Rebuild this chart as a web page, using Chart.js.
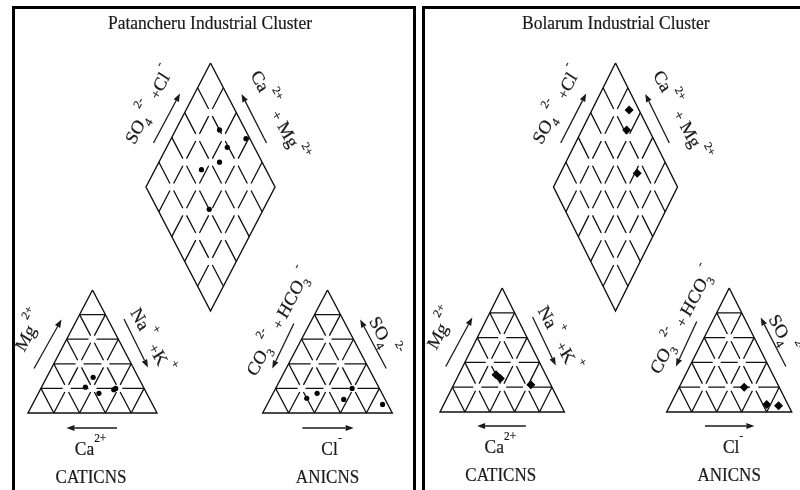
<!DOCTYPE html>
<html>
<head>
<meta charset="utf-8">
<script src="https://cdn.jsdelivr.net/npm/chart.js@4.4.1/dist/chart.umd.min.js"></script>
<style>
  html, body { margin: 0; padding: 0; background: #fff; overflow: hidden; }
  body { width: 800px; height: 490px; position: relative; }
  .frame { position: absolute; top: 6px; height: 520px; border: 3px solid #000; border-bottom: none; box-sizing: border-box; }
  canvas { position: absolute; top: 0; }
</style>
</head>
<body>
<div class="frame" style="left:12px; width:404px"></div>
<div class="frame" style="left:422px; width:420px"></div>
<canvas id="patancheru" width="420" height="490" style="left:0"></canvas>
<canvas id="bolarum" width="380" height="490" style="left:420px"></canvas>
<script>
// Piper diagrams, values in % meq/l

// Patancheru - cation triangle
const patCa = [35, 45, 37, 24, 22]
const patMg = [29, 21, 16, 19, 20]
const patNaK = [36, 34, 47, 57, 58]
// Patancheru - anion triangle
const patHCO3 = [50, 60, 32, 21, 4]
const patSO4 = [16, 12, 11, 20, 7]
const patCl = [34, 28, 57, 59, 89]
// Patancheru - diamond
const patCaMg = [66, 42, 53, 53, 64, 42]
const patSO4Cl = [80, 97, 79, 67, 50, 40]

// Bolarum - cation triangle
const bolCa = [40, 38, 16]
const bolMg = [30, 27, 22]
const bolNaK = [30, 35, 62]
// Bolarum - anion triangle
const bolHCO3 = [28, 17, 8]
const bolSO4 = [20, 6, 5]
const bolCl = [52, 77, 87]
// Bolarum - diamond
const bolCaMg = [70, 64, 38]
const bolSO4Cl = [92, 82, 73]

// grid every 20 %
const gridSteps = [20, 40, 60, 80]

const SY = 1.1 // the figure is stretched vertically
const FONT = '"Liberation Serif", "Times New Roman", serif'
const INK = '#1a1a1a'
const GAP = 4

// ---------- geometry helpers ----------
function triPoint(s, right, up) {
  const base = s.apex + s.h
  return { x: s.cx - s.hw + (right + up / 2) * 2 * s.hw, y: base - up * s.h }
}

function diaPoint(d, c, a) {
  return { x: d.cx + (a - c) * d.hw, y: d.top + 2 * d.hh - (c + a) * d.hh }
}

function brokenLine(p, q, cells, out) {
  const total = Math.hypot(q.x - p.x, q.y - p.y)
  const g = GAP / total
  for (let i = 0; i < cells; i++) {
    const t0 = i / cells + (i > 0 ? g : 0)
    const t1 = (i + 1) / cells - (i < cells - 1 ? g : 0)
    out.push({ x: p.x + (q.x - p.x) * t0, y: p.y + (q.y - p.y) * t0 })
    out.push({ x: p.x + (q.x - p.x) * t1, y: p.y + (q.y - p.y) * t1 })
    out.push({ x: null, y: null })
  }
}

function triangleGrid(s, out) {
  gridSteps.forEach((v) => {
    const k = v / 100
    const cells = Math.round((1 - k) * 5)
    brokenLine(triPoint(s, 0, k), triPoint(s, 1 - k, k), cells, out)
    brokenLine(triPoint(s, k, 0), triPoint(s, k, 1 - k), cells, out)
    brokenLine(triPoint(s, 1 - k, 0), triPoint(s, 0, 1 - k), cells, out)
  })
}

function diamondGrid(d, out) {
  gridSteps.forEach((v) => {
    const k = v / 100
    brokenLine(diaPoint(d, k, 0), diaPoint(d, k, 1), 5, out)
    brokenLine(diaPoint(d, 0, k), diaPoint(d, 1, k), 5, out)
  })
}

function outlines(L) {
  const pts = []
  ;[L.cat, L.an].forEach((s) => {
    pts.push(triPoint(s, 0, 1), triPoint(s, 1, 0), triPoint(s, 0, 0), triPoint(s, 0, 1))
    pts.push({ x: null, y: null })
  })
  const d = L.dia
  pts.push(diaPoint(d, 1, 1), diaPoint(d, 0, 1), diaPoint(d, 0, 0), diaPoint(d, 1, 0), diaPoint(d, 1, 1))
  return pts
}

// ---------- text / arrows ----------
function richText(ctx, x, y, deg, parts, size) {
  const sizes = { '': size, sub: size * 0.65, sup: size * 0.65, small: size * 0.8 }
  ctx.save()
  ctx.translate(x, y)
  ctx.scale(1, SY)
  ctx.rotate((deg * Math.PI) / 180)
  ctx.fillStyle = INK
  ctx.strokeStyle = INK
  ctx.lineWidth = 0.2
  ctx.textBaseline = 'alphabetic'
  let total = 0
  const widths = parts.map(([t, k]) => {
    ctx.font = sizes[k] + 'px ' + FONT
    const w = ctx.measureText(t).width
    total += w
    return w
  })
  let cx = -total / 2
  const base = size * 0.33
  parts.forEach(([t, k], i) => {
    ctx.font = sizes[k] + 'px ' + FONT
    let dy = base
    if (k === 'sub') dy += size * 0.3
    if (k === 'sup') dy -= size * 0.7
    ctx.fillText(t, cx, dy)
    ctx.strokeText(t, cx, dy)
    cx += widths[i]
  })
  ctx.restore()
}

function arrow(ctx, x1, y1, x2, y2) {
  const ang = Math.atan2(y2 - y1, x2 - x1)
  const len = 8, half = 3
  ctx.save()
  ctx.strokeStyle = INK
  ctx.fillStyle = INK
  ctx.lineWidth = 1.3
  ctx.beginPath()
  ctx.moveTo(x1, y1)
  ctx.lineTo(x2 - Math.cos(ang) * len, y2 - Math.sin(ang) * len)
  ctx.stroke()
  ctx.beginPath()
  ctx.moveTo(x2, y2)
  ctx.lineTo(x2 - Math.cos(ang) * len - Math.sin(ang) * half, y2 - Math.sin(ang) * len + Math.cos(ang) * half)
  ctx.lineTo(x2 - Math.cos(ang) * len + Math.sin(ang) * half, y2 - Math.sin(ang) * len - Math.cos(ang) * half)
  ctx.closePath()
  ctx.fill()
  ctx.restore()
}

// labels: [shape, dx, dy, angle, parts, size]
const labels = [
  ['dia', -61.5, 42, -60, [['SO', ''], ['4', 'sub'], [' 2-', 'sup'], ['  +', 'small'], ['Cl', ''], [' -', 'sup']], 17.5],
  ['dia', 68, 53, 60, [['Ca', ''], [' 2+', 'sup'], ['  +', 'small'], [' Mg', ''], [' 2+', 'sup']], 17.5],
  ['cat', -63.5, 41, -60, [['Mg', ''], [' 2+', 'sup']], 17.5],
  ['cat', 59, 51, 60, [['Na', ''], [' +', 'sup'], ['  +', 'small'], ['K', ''], [' +', 'sup']], 17.5],
  ['cat', -2, 159, 0, [['Ca', ''], ['2+', 'sup']], 17.5],
  ['cat', -1.5, 187, 0, [['CATICNS', '']], 17],
  ['an', -49, 32, -60, [['CO', ''], ['3', 'sub'], [' 2-', 'sup'], ['  + ', 'small'], ['HCO', ''], ['3', 'sub'], [' -', 'sup']], 17.5],
  ['an', 56, 47, 60, [['SO', ''], ['4', 'sub'], [' 2-', 'sup']], 17.5],
  ['an', 4, 159, 0, [['Cl', ''], ['-', 'sup']], 17.5],
  ['an', 0, 187, 0, [['ANICNS', '']], 17]
]

// arrows: [shape, x1, y1, x2, y2] (head at the second point)
const arrows = [
  ['dia', -57, 80, -30.5, 30.5],
  ['dia', 56, 80, 31, 31],
  ['cat', -58.5, 78.5, -31, 29.5],
  ['cat', 31.5, 29, 55.5, 77.5],
  ['cat', 24.5, 138, -26, 138],
  ['an', -33.5, 33.5, -55, 78.5],
  ['an', 58.5, 78.5, 32.5, 29.5],
  ['an', -25, 138, 26, 138]
]

function anchor(L, name) {
  if (name === 'dia') return { x: L.dia.cx, y: L.dia.top, s: L.dia.hw / 64.5 }
  const s = L[name]
  return { x: s.cx, y: s.apex, s: s.hw / 64.5 }
}

function labelPlugin(title, L) {
  return {
    id: 'piperLabels',
    afterDatasetsDraw(chart) {
      const { ctx } = chart
      const sx = chart.scales.x
      const sy = chart.scales.y
      const px = (v) => sx.getPixelForValue(v)
      const py = (v) => sy.getPixelForValue(v)

      richText(ctx, px(L.title.x), py(L.title.y), 0, [[title, '']], 17.5)

      labels.forEach(([name, dx, dy, deg, parts, size]) => {
        const a = anchor(L, name)
        richText(ctx, px(a.x + dx * a.s), py(a.y + dy), deg, parts, size)
      })
      arrows.forEach(([name, x1, y1, x2, y2]) => {
        const a = anchor(L, name)
        arrow(ctx, px(a.x + x1 * a.s), py(a.y + y1), px(a.x + x2 * a.s), py(a.y + y2))
      })
    }
  }
}

function makeChart(canvasId, title, L, cations, anions, diamond, marker) {
  const canvas = document.getElementById(canvasId)
  const grid = []
  triangleGrid(L.cat, grid)
  triangleGrid(L.an, grid)
  diamondGrid(L.dia, grid)

  const catPts = cations.ca.map((ca, i) => {
    const t = ca + cations.mg[i] + cations.nak[i]
    return triPoint(L.cat, cations.nak[i] / t, cations.mg[i] / t)
  })
  const anPts = anions.hco3.map((h, i) => {
    const t = h + anions.so4[i] + anions.cl[i]
    return triPoint(L.an, anions.cl[i] / t, anions.so4[i] / t)
  })
  const diaPts = diamond.camg.map((c, i) => diaPoint(L.dia, c / 100, diamond.so4cl[i] / 100))

  const pointSet = (label, data) => ({
    label,
    data,
    pointStyle: marker.style,
    pointRadius: marker.radius,
    backgroundColor: '#000',
    borderColor: '#000',
    borderWidth: 0,
    showLine: false
  })

  return new Chart(canvas, {
    type: 'scatter',
    data: {
      datasets: [
        { label: 'grid', data: grid, showLine: true, borderColor: '#111', borderWidth: 1.3, pointRadius: 0 },
        { label: 'outline', data: outlines(L), showLine: true, borderColor: '#111', borderWidth: 1.4, pointRadius: 0 },
        pointSet('cations', catPts),
        pointSet('anions', anPts),
        pointSet('diamond', diaPts)
      ]
    },
    options: {
      responsive: false,
      animation: false,
      events: [],
      layout: { padding: 0, autoPadding: false },
      plugins: {
        legend: { display: false },
        tooltip: { enabled: false },
        title: { display: false }
      },
      scales: {
        x: { type: 'linear', min: 0, max: canvas.width, display: false },
        y: { type: 'linear', min: 0, max: canvas.height, reverse: true, display: false }
      }
    },
    plugins: [labelPlugin(title, L)]
  })
}

// layouts in canvas coordinates
const patLayout = {
  title: { x: 210, y: 23 },
  dia: { cx: 210.5, top: 63, hw: 64.5, hh: 124 },
  cat: { cx: 92.5, apex: 290, hw: 64.5, h: 123 },
  an: { cx: 327.5, apex: 290, hw: 64.8, h: 123 }
}
const bolLayout = {
  title: { x: 195.8, y: 23 },
  dia: { cx: 195.5, top: 63, hw: 62, hh: 124 },
  cat: { cx: 82.2, apex: 288, hw: 62.2, h: 124 },
  an: { cx: 309.2, apex: 288, hw: 62.5, h: 124 }
}

makeChart('patancheru', 'Patancheru Industrial Cluster', patLayout,
  { ca: patCa, mg: patMg, nak: patNaK },
  { hco3: patHCO3, so4: patSO4, cl: patCl },
  { camg: patCaMg, so4cl: patSO4Cl },
  { style: 'circle', radius: 2.6 })

makeChart('bolarum', 'Bolarum Industrial Cluster', bolLayout,
  { ca: bolCa, mg: bolMg, nak: bolNaK },
  { hco3: bolHCO3, so4: bolSO4, cl: bolCl },
  { camg: bolCaMg, so4cl: bolSO4Cl },
  { style: 'rectRot', radius: 4.5 })
</script>
</body>
</html>
